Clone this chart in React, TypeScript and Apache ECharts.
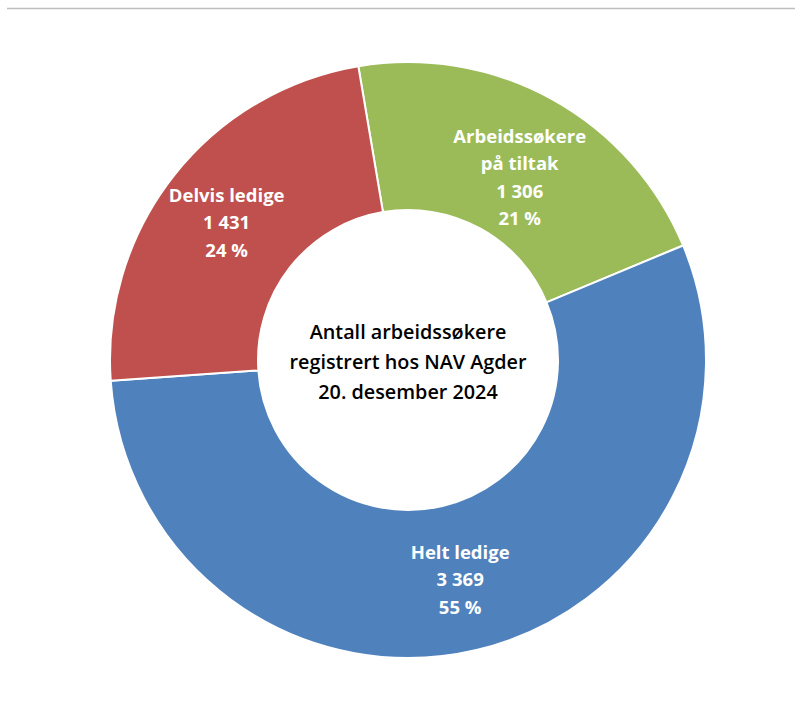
import React, { useEffect, useRef } from "react";
import * as echarts from "echarts";

const categories = ["Arbeidssøkere\npå tiltak", "Helt ledige", "Delvis ledige"];
const values = [1306, 3369, 1431];
const percents = ["21 %", "55 %", "24 %"];
const colors = ["#9BBB59", "#4F81BD", "#C0504D"];
const centerLines = ["Antall arbeidssøkere", "registrert hos NAV Agder", "20. desember 2024"];

const fmt = (n: number) => String(n).replace(/\B(?=(\d{3})+(?!\d))/g, " ");

export default function App() {
  const ref = useRef<HTMLDivElement>(null);
  useEffect(() => {
    const chart = echarts.init(ref.current!, undefined, { renderer: "svg" });
    chart.setOption({
      animation: false,
      backgroundColor: "#ffffff",
      graphic: [
        {
          type: "line",
          shape: { x1: 7, y1: 8.5, x2: 795, y2: 8.5 },
          style: { stroke: "#bfbfbf", lineWidth: 1.5 },
        },
        {
          type: "text",
          x: 408,
          y: 361,
          style: {
            text: centerLines.join("\n"),
            fontFamily: "'Open Sans', 'Liberation Sans', sans-serif",
            fontSize: 19.8,
            fontWeight: 600,
            lineHeight: 30,
            fill: "#000000",
            align: "center",
            verticalAlign: "middle",
          },
        },
      ],
      series: [
        {
          type: "pie",
          center: [408, 360],
          radius: [150, 298],
          startAngle: 99.6,
          clockwise: true,
          avoidLabelOverlap: false,
          itemStyle: { borderColor: "#ffffff", borderWidth: 2 },
          label: {
            show: true,
            position: "inside",
            color: "#ffffff",
            fontFamily: "'Open Sans', 'Liberation Sans', sans-serif",
            fontSize: 18.5,
            fontWeight: "bold",
            lineHeight: 27.5,
            formatter: (p: any) => `${p.name}\n${fmt(p.value)}\n${percents[p.dataIndex]}`,
          },
          labelLine: { show: false },
          emphasis: { disabled: true },
          data: categories.map((c, i) => ({
            name: c,
            value: values[i],
            itemStyle: { color: colors[i] },
            label: i === 0 ? { offset: [2, 15] } : i === 2 ? { offset: [-3, 2] } : { offset: [0, -2] },
          })),
        },
      ],
    });
    return () => chart.dispose();
  }, []);
  return (
    <div
      ref={ref}
      style={{ position: "absolute", left: 0, top: 0, width: 795, height: 716 }}
    />
  );
}
